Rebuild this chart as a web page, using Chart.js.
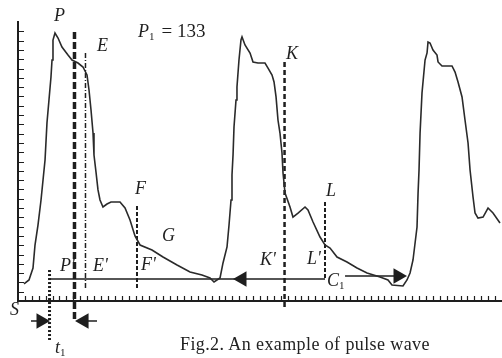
<!DOCTYPE html>
<html>
<head>
<meta charset="utf-8">
<script src="https://cdn.jsdelivr.net/npm/chart.js@4.4.1/dist/chart.umd.min.js"></script>
<style>
html,body{margin:0;padding:0;background:#fff;}
#wrap{position:relative;width:502px;height:358px;overflow:hidden;}
#wave{position:absolute;left:0;top:0;}
#cap{position:absolute;left:180px;top:334px;font:18px "Liberation Serif",serif;letter-spacing:0.4px;color:#222;white-space:nowrap;}
</style>
</head>
<body>
<div id="wrap">
  <canvas id="wave" width="502" height="358"></canvas>
  <div id="cap">Fig.2. An example of pulse wave</div>
</div>
<script>
// pulse wave samples (time in tick units, amplitude in tick units)
const waveX = [0.87,1.59,2.17,2.46,2.89,3.33,3.62,3.91,4.19,4.48,4.77,4.92,5.06,5.35,5.79,6.36,7.23,7.81,8.68,9.40,
  9.98,10.27,10.56,10.85,10.99,11.28,11.57,11.86,12.29,12.87,13.45,14.75,15.48,16.20,16.92,17.65,19.38,20.97,23.0,24.88,
  26.61,27.77,28.35,29.22,29.65,30.23,30.52,30.81,30.95,31.10,31.24,31.53,31.67,31.96,32.25,32.40,32.83,33.56,33.99,34.71,
  35.72,36.16,36.74,37.03,37.32,37.60,37.89,38.18,38.33,38.62,39.34,39.77,40.50,41.51,41.94,42.67,43.68,44.40,45.13,46.14,
  47.58,49.03,50.48,52.36,53.51,54.09,55.68,56.26,56.70,57.13,57.71,57.86,58.0,58.15,58.43,58.87,59.16,59.30,59.59,60.02,
  60.60,60.75,61.32,62.77,63.21,63.64,64.22,64.65,65.09,65.38,65.81,66.10,66.53,67.26,67.98,68.70,69.71];
const waveY = [1.83,2.26,3.55,6.02,8.17,10.86,13.01,15.16,19.14,21.61,24.09,25.91,28.06,28.82,28.28,27.31,26.45,25.91,25.59,25.16,
  24.30,22.69,20.54,18.06,15.70,13.87,11.94,10.86,10.11,10.43,10.65,10.65,10.0,8.71,6.99,6.02,5.48,4.73,3.87,3.12,
  2.80,2.47,2.04,2.47,4.09,5.81,8.17,10.86,13.55,15.70,18.71,21.61,23.01,25.91,28.06,28.39,27.53,26.67,25.70,25.59,
  25.59,25.05,24.30,23.55,21.94,19.46,18.06,15.91,13.76,11.61,10.11,9.03,9.46,10.11,9.78,8.49,6.88,6.02,5.70,4.73,
  4.19,3.55,3.01,2.58,2.26,1.72,1.61,2.26,3.01,4.41,7.96,11.61,14.09,18.06,22.37,25.91,26.67,27.85,27.74,26.99,
  26.45,25.70,25.27,25.27,24.62,23.55,21.94,19.46,16.99,14.09,11.18,9.46,8.92,9.03,10.0,9.46,8.39];

// vertical marker lines
const guideName = ['t1', "P'", "E'", 'F', 'K', 'L'];
const guideX = [4.56, 8.17, 9.76, 17.21, 38.55, 44.40];
const guideTop = [3.33, 28.92, 26.67, 10.22, 25.70, 10.65];
const guideBottom = [-4.19, -2.26, 1.18, 1.40, -0.97, 2.37];

// horizontal measure lines
const spanX0 = [4.77, 47.30, 1.88, 9.55];
const spanX1 = [44.40, 54.96, 3.33, 11.43];
const spanY = [2.37, 2.69, -2.15, -2.15];

// arrow heads
const arrowX = [32.40, 54.96, 3.33, 9.55];
const arrowY = [2.37, 2.69, -2.15, -2.15];

// text notes (left edge, middle)
const noteText = ['P', 'E', 'P', 'K', 'F', 'G', "F'", "P'", "E'", "K'", 'L', "L'", 'C', 'S', 't'];
const noteSub = ['', '', '1', '', '', '', '', '', '', '', '', '', '1', '', '1'];
const noteTail = ['', '', '= 133', '', '', '', '', '', '', '', '', '', '', '', ''];
const noteX = [5.21, 11.43, 17.36, 38.76, 16.92, 20.83, 17.79, 6.07, 10.85, 35.0, 44.55, 41.80, 44.69, -1.16, 5.35];
const noteY = [30.65, 27.42, 28.92, 26.56, 12.04, 6.99, 3.87, 3.76, 3.76, 4.41, 11.83, 4.52, 2.15, -0.97, -5.05];

const guideStyle = {
  't1': {w: 3, dash: [2, 2]},
  "P'": {w: 3.5, dash: [7, 3]},
  "E'": {w: 1.5, dash: [5, 2, 1, 2]},
  'F': {w: 2, dash: [4, 2]},
  'K': {w: 2.5, dash: [5, 3]},
  'L': {w: 2, dash: [4, 2]}
};
const arrowRot = [-90, 90, 90, -90];
const ink = '#1e1e1e';

const datasets = [{
  data: waveX.map((x, i) => ({x, y: waveY[i]})),
  borderColor: '#2a2a2a', borderWidth: 1.6, pointRadius: 0, tension: 0
}];
guideName.forEach((n, i) => {
  datasets.push({
    data: [{x: guideX[i], y: guideTop[i]}, {x: guideX[i], y: guideBottom[i]}],
    borderColor: ink, borderWidth: guideStyle[n].w, borderDash: guideStyle[n].dash,
    pointRadius: 0, clip: false
  });
});
spanY.forEach((y, i) => {
  datasets.push({
    data: [{x: spanX0[i], y}, {x: spanX1[i], y}],
    borderColor: ink, borderWidth: 1.5, pointRadius: 0, clip: false
  });
});

const innerTicks = {
  id: 'innerTicks',
  afterDatasetsDraw(chart) {
    const {ctx, chartArea, scales: {x, y}} = chart;
    ctx.save();
    ctx.strokeStyle = ink; ctx.lineWidth = 1.2;
    ctx.beginPath();
    x.ticks.forEach(t => {
      if (t.value <= x.min || t.value >= x.max) return;
      const px = Math.round(x.getPixelForValue(t.value)) + 0.5;
      ctx.moveTo(px, chartArea.bottom); ctx.lineTo(px, chartArea.bottom - 5);
    });
    y.ticks.forEach(t => {
      if (t.value <= y.min || t.value >= y.max) return;
      const py = Math.round(y.getPixelForValue(t.value)) + 0.5;
      ctx.moveTo(chartArea.left, py); ctx.lineTo(chartArea.left + 6, py);
    });
    ctx.stroke();
    // arrow heads, also outside the plot area
    ctx.fillStyle = ink;
    const r = 9;
    arrowX.forEach((v, i) => {
      const cx = x.getPixelForValue(v), cy = y.getPixelForValue(arrowY[i]);
      const a = arrowRot[i] * Math.PI / 180;
      ctx.beginPath();
      for (let k = 0; k < 3; k++) {
        const b = a + k * 2 * Math.PI / 3;
        const px = cx + Math.sin(b) * r, py = cy - Math.cos(b) * r;
        if (k === 0) ctx.moveTo(px, py); else ctx.lineTo(px, py);
      }
      ctx.closePath();
      ctx.fill();
    });
    ctx.restore();
  }
};

const notes = {
  id: 'notes',
  afterDraw(chart) {
    const {ctx, scales: {x, y}} = chart;
    ctx.save();
    ctx.fillStyle = ink;
    ctx.textBaseline = 'middle';
    ctx.textAlign = 'left';
    noteText.forEach((txt, i) => {
      let px = x.getPixelForValue(noteX[i]);
      const py = y.getPixelForValue(noteY[i]);
      ctx.font = 'italic 18px "Liberation Serif", serif';
      ctx.fillText(txt, px, py);
      px += ctx.measureText(txt).width;
      if (noteSub[i]) {
        ctx.font = '11px "Liberation Serif", serif';
        ctx.fillText(noteSub[i], px, py + 5);
        px += ctx.measureText(noteSub[i]).width;
      }
      if (noteTail[i]) {
        ctx.font = '19px "Liberation Serif", serif';
        ctx.fillText(noteTail[i], px + 7, py);
      }
    });
    ctx.restore();
  }
};

const axisOpts = (max) => ({
  type: 'linear', min: 0, max,
  ticks: {display: false, stepSize: 1},
  grid: {drawOnChartArea: false, drawTicks: false},
  border: {color: ink, width: 2}
});

new Chart(document.getElementById('wave'), {
  type: 'line',
  data: {datasets},
  options: {
    responsive: false, animation: false,
    layout: {padding: {left: 18, top: 22, right: 0, bottom: 57}},
    plugins: {legend: {display: false}, tooltip: {enabled: false}},
    scales: {x: axisOpts(70), y: axisOpts(30)}
  },
  plugins: [innerTicks, notes]
});
</script>
</body>
</html>
